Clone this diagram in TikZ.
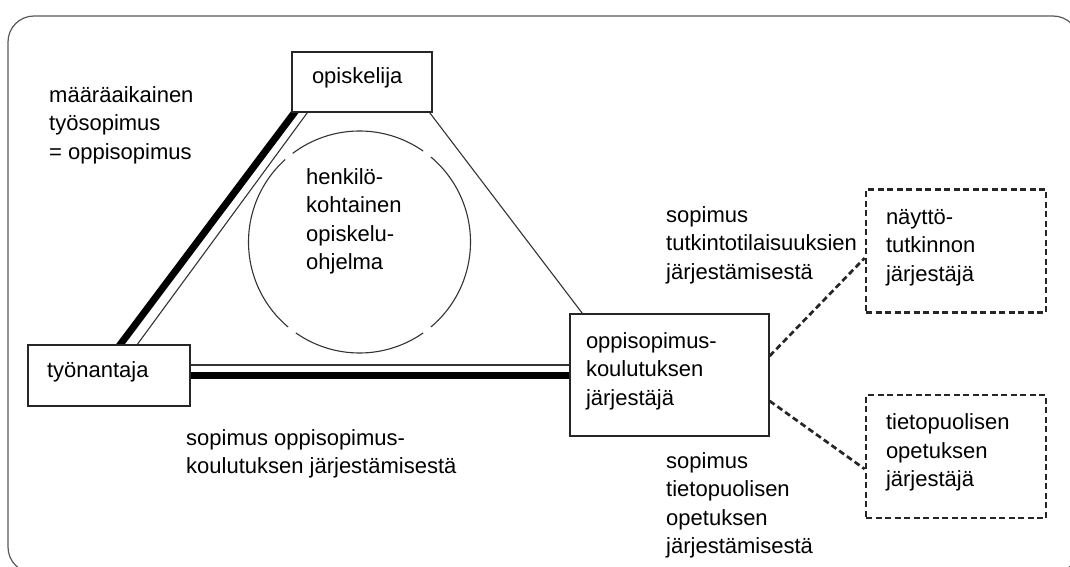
\documentclass[tikz,border=0pt]{standalone}
\usepackage{fontspec}
\setmainfont{Liberation Sans}
\usetikzlibrary{calc}
\pgfdeclarelayer{bg}
\pgfsetlayers{bg,main}
\begin{document}
\begin{tikzpicture}[x=1pt,y=-1pt,
  every node/.style={font=\fontsize{22}{28.5}\selectfont, text=black},
  box/.style={draw=black!85, line width=1.3pt, fill=white, align=left, inner ysep=0pt,
    execute at end node={\rule[-12pt]{0pt}{12pt}}},
  dbox/.style={box, line width=2.7pt, dash pattern=on 6pt off 3.5pt},
  lbl/.style={inner sep=0pt, align=left, anchor=north west,
    execute at begin node={\rule{0pt}{17pt}}},
  thinline/.style={line width=1.1pt, draw=black!80},
  heavyline/.style={line width=7pt, draw=black},
  dashline/.style={line width=2.7pt, dash pattern=on 6pt off 3.5pt, draw=black!85},
  circline/.style={line width=1.1pt, draw=black!80},
  frameline/.style={line width=1.2pt, draw=black!65, rounded corners=26pt}
]
\useasboundingbox (0,0) rectangle (1070,567);
\draw[frameline] (8,16) rectangle (1079,573);

% boxes
\node[box, text width=100pt, inner xsep=20pt, minimum height=60pt] (opi) at (362,82) {opiskelija};
\node[box, text width=124pt, inner xsep=19pt, minimum height=61pt] (tyo) at (109,375.5) {työnantaja};
\node[box, text width=167pt, inner xsep=16pt, minimum height=122pt] (opp) at (669.5,375) {oppisopimus-\\koulutuksen\\järjestäjä};
\node[dbox, text width=140pt, inner xsep=20pt, minimum height=123pt] (nay) at (956,251) {näyttö-\\tutkinnon\\järjestäjä};
\node[dbox, text width=140pt, inner xsep=20pt, minimum height=123pt] (tie) at (956,456.5) {tietopuolisen\\opetuksen\\järjestäjä};

% circle
\coordinate (cc) at (359.5,242);
\draw[circline] (cc) ++(55:111) arc[start angle=55, end angle=125, radius=111];
\draw[circline] (cc) ++(130:111) arc[start angle=130, end angle=228, radius=111];
\draw[circline] (cc) ++(233:111) arc[start angle=233, end angle=305, radius=111];
\draw[circline] (cc) ++(310:111) arc[start angle=310, end angle=410, radius=111];

% connectors
\begin{pgfonlayer}{bg}
\draw[heavyline, shorten <=-6pt, shorten >=-6pt] ($(opi.south west)+(3,0)$) -- ($(tyo.north west)+(93,0)$);
\draw[thinline, shorten <=-4pt, shorten >=-4pt] ($(opi.south west)+(16,0)$) -- ($(tyo.north west)+(110,0)$);
\draw[thinline, shorten <=-4pt, shorten >=-4pt] ($(opi.south east)+(-3,0)$) -- ($(opp.north west)+(13,0)$);
\draw[thinline, shorten <=-4pt, shorten >=-4pt] ([yshift=10.5pt]tyo.east) -- ([yshift=10.5pt]tyo.east -| opp.west);
\draw[heavyline, shorten <=-4pt, shorten >=-4pt] (tyo.east) -- (tyo.east -| opp.west);
\draw[dashline] ([yshift=19pt]opp.east) -- ([yshift=-7pt]nay.west);
\draw[dashline] ([yshift=-26pt]opp.east) -- ([yshift=-12.5pt]tie.west);
\end{pgfonlayer}

% labels
\node[lbl] (l1) at (49,86) {määräaikainen\\työsopimus\\= oppisopimus};
\node[lbl] (l2) at (306,168) {henkilö-\\kohtainen\\opiskelu-\\ohjelma};
\node[lbl] (l3) at (666,206) {sopimus\\tutkintotilaisuuksien\\järjestämisestä};
\node[lbl] (l4) at (666,452) {sopimus\\tietopuolisen\\opetuksen\\järjestämisestä};
\node[lbl] (l5) at (186,429) {sopimus oppisopimus-\\koulutuksen järjestämisestä};
\end{tikzpicture}
\end{document}
